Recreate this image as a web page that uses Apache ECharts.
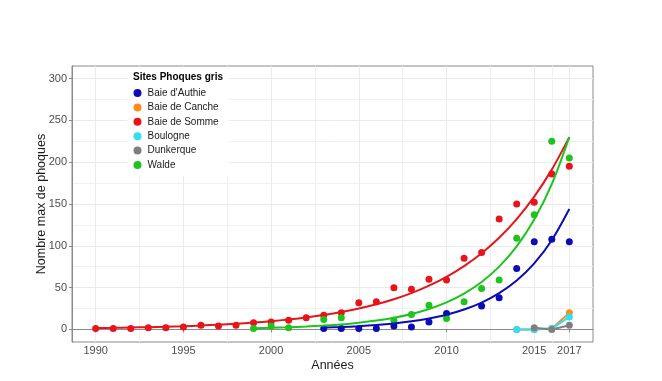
<!DOCTYPE html>
<html><head><meta charset="utf-8">
<script src="https://cdn.jsdelivr.net/npm/echarts@6/dist/echarts.min.js"></script>
<style>html,body{margin:0;padding:0;background:#fff}#c{width:662px;height:381px}</style>
</head><body><div id="c"></div>
<script>
// ---- observed counts ----
const authieYears = [2003,2004,2005,2006,2007,2008,2009,2010,2012,2013,2014,2015,2016,2017];
const authieVals  = [1,1,1,1,4,3,9,19,28,38,73,105,108,105];
const sommeYears = [1990,1991,1992,1993,1994,1995,1996,1997,1998,1999,2000,2001,2002,2003,2004,2005,2006,2007,2008,2009,2010,2011,2012,2013,2014,2015,2016,2017];
const sommeVals  = [1,1,1,2,2,3,5,4,5,8,9,11,14,17,20,32,33,50,48,60,59,85,92,132,150,152,186,195];
const waldeYears = [1999,2000,2001,2003,2004,2007,2008,2009,2010,2011,2012,2013,2014,2015,2016,2017];
const waldeVals  = [1,4,2,12,14,11,18,29,13,33,49,59,109,137,225,205];
const cancheYears = [2014,2015,2016,2017];
const cancheVals  = [0,0,1,20];
const boulogneYears = [2014,2015,2016,2017];
const boulogneVals  = [0,0,1,15];
const dunkerqueYears = [2015,2016,2017];
const dunkerqueVals  = [2,0,5];

// ---- fitted trend curves ----
const sommeFitYears = [1990,1991,1992,1993,1994,1995,1996,1997,1998,1999,2000,2001,2002,2003,2004,2005,2006,2007,2008,2009,2010,2011,2012,2013,2014,2015,2016,2017];
const sommeFit = [1.6,1.9,2.3,2.7,3.3,3.9,4.7,5.7,6.8,8.2,9.9,11.9,14.3,17.3,20.8,25.0,30.1,36.2,43.5,52.4,63.0,75.8,91.2,109.7,132.0,158.9,191.1,230];
const waldeFitYears = [1999,2000,2001,2002,2003,2004,2005,2006,2007,2008,2009,2010,2011,2012,2013,2014,2015,2016,2017];
const waldeFit = [1.5,2.0,2.6,3.5,4.6,6.0,8.0,10.6,14.0,18.5,24.5,32.4,42.9,56.7,75.1,99.3,131.4,173.8,230];
const authieFitYears = [2003,2004,2005,2006,2007,2008,2009,2010,2011,2012,2013,2014,2015,2016,2017];
const authieFit = [2.2,2.9,3.9,5.3,7.2,9.7,13.1,17.6,23.8,32.1,43.4,58.5,79.0,106.7,144];

// ---- axis ticks ----
const xTicks = [1990,1995,2000,2005,2010,2015,2017];
const xMinor = [1992.5,1997.5,2002.5,2007.5,2012.5,2016];
const yTicks = [0,50,100,150,200,250,300];
const yMinor = [25,75,125,175,225,275];

const siteNames = ["Baie d'Authie","Baie de Canche","Baie de Somme","Boulogne","Dunkerque","Walde"];
const COL = {authie:'#0c0cb4', canche:'#ff8c1a', somme:'#e8141a', boulogne:'#2de0f5', dunkerque:'#7f7f7f', walde:'#1dc41d'};

const pairs = (xs, ys) => xs.map((x,i)=>[x, ys[i]]);
const FONT = '"Liberation Sans", Arial, sans-serif';

const scatter = (name, xs, ys, color) => ({
  name, type:'scatter', data: pairs(xs,ys), symbolSize:7, z:3,
  itemStyle:{color, opacity:1}, emphasis:{disabled:true}
});
const fit = (name, xs, ys, color) => ({
  name, type:'line', data: pairs(xs,ys), showSymbol:false, smooth:0.3, z:4,
  lineStyle:{color, width:2}, itemStyle:{color}, emphasis:{disabled:true}
});
const lineDots = (name, xs, ys, color) => ({
  name, type:'line', data: pairs(xs,ys), symbol:'circle', symbolSize:7, showSymbol:true, z:4,
  lineStyle:{color, width:2}, itemStyle:{color, opacity:1}, emphasis:{disabled:true}
});

const chart = echarts.init(document.getElementById('c'), null, {renderer:'canvas'});
chart.setOption({
  animation:false,
  backgroundColor:'#fff',
  textStyle:{fontFamily:FONT},
  grid:{left:72, top:66, right:69, bottom:39, show:true, borderColor:'#8a8a8a', borderWidth:1, backgroundColor:'transparent'},
  title:{text:'Sites Phoques gris', left:133, top:72, padding:0, z:6,
    textStyle:{fontSize:10, fontWeight:'bold', color:'#000', fontFamily:FONT}},
  legend:{data:siteNames, orient:'vertical', left:127, top:67, padding:[20,10,5,6.5], backgroundColor:'#fff',
    icon:'circle', itemWidth:10, itemHeight:8, itemGap:2.4, selectedMode:false, z:4,
    textStyle:{fontSize:10, color:'#1a1a1a', lineHeight:12, fontFamily:FONT}},
  xAxis:[
    {type:'value', gridIndex:0, min:1988.65, max:2018.35, position:'bottom',
     name:'Années', nameLocation:'middle', nameGap:17, nameMoveOverlap:false,
     nameTextStyle:{fontSize:12.5, color:'#1a1a1a', fontFamily:FONT},
     axisLine:{show:true, lineStyle:{color:'#8a8a8a', width:1}},
     axisTick:{show:true, length:3, customValues:xTicks, lineStyle:{color:'#8a8a8a'}},
     axisLabel:{customValues:xTicks, fontSize:11, color:'#4d4d4d', margin:3, formatter:v=>String(v), fontFamily:FONT},
     splitLine:{show:true, lineStyle:{color:'#ebebeb', width:1}}},
    {type:'value', gridIndex:0, min:1988.65, max:2018.35, position:'bottom',
     axisLine:{show:false}, axisLabel:{show:false},
     axisTick:{show:false, customValues:xMinor},
     splitLine:{show:true, lineStyle:{color:'#f1f1f1', width:1}}}
  ],
  yAxis:[
    {type:'value', gridIndex:0, min:-15, max:315, position:'left',
     name:'Nombre max de phoques', nameLocation:'middle', nameGap:24, nameMoveOverlap:false,
     nameTextStyle:{fontSize:12.5, color:'#1a1a1a', fontFamily:FONT},
     axisLine:{show:true, lineStyle:{color:'#8a8a8a', width:1}},
     axisTick:{show:true, length:3, customValues:yTicks, lineStyle:{color:'#8a8a8a'}},
     axisLabel:{customValues:yTicks, fontSize:11, color:'#4d4d4d', margin:5, formatter:v=>String(v), fontFamily:FONT},
     splitLine:{show:true, lineStyle:{color:'#ebebeb', width:1}}},
    {type:'value', gridIndex:0, min:-15, max:315, position:'left',
     axisLine:{show:false}, axisLabel:{show:false},
     axisTick:{show:false, customValues:yMinor},
     splitLine:{show:true, lineStyle:{color:'#f1f1f1', width:1}}}
  ],
  series:[
    scatter(siteNames[0], authieYears, authieVals, COL.authie),
    lineDots(siteNames[1], cancheYears, cancheVals, COL.canche),
    scatter(siteNames[2], sommeYears, sommeVals, COL.somme),
    lineDots(siteNames[3], boulogneYears, boulogneVals, COL.boulogne),
    lineDots(siteNames[4], dunkerqueYears, dunkerqueVals, COL.dunkerque),
    scatter(siteNames[5], waldeYears, waldeVals, COL.walde),
    fit("Baie d'Authie (tendance)", authieFitYears, authieFit, COL.authie),
    fit("Baie de Somme (tendance)", sommeFitYears, sommeFit, COL.somme),
    fit("Walde (tendance)", waldeFitYears, waldeFit, COL.walde)
  ]
});
</script>
</body></html>
